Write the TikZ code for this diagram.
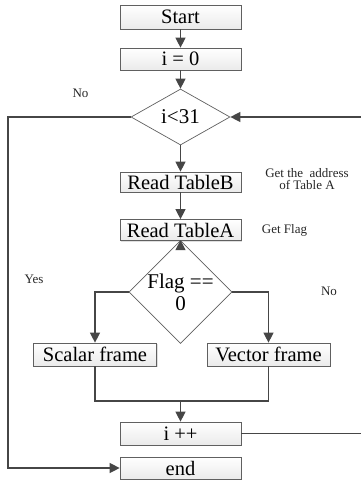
\documentclass[tikz,border=0pt]{standalone}
\usepackage{fontspec}
\setmainfont{Liberation Serif}
\usetikzlibrary{shapes.geometric,arrows.meta,shadows}
\begin{document}
\begin{tikzpicture}[x=1pt,y=-1pt,
  box/.style={draw=gray!75!black, line width=0.7pt, top color=white, bottom color=gray!16,
    minimum width=121pt, inner sep=0pt, font=\fontsize{20.5}{22}\selectfont,
    drop shadow={shadow xshift=1.2pt,shadow yshift=-1.2pt,opacity=0.25,fill=gray}},
  dec/.style={diamond, draw=gray!75!black, line width=0.7pt, fill=white, inner sep=0pt,
    minimum width=98pt, minimum height=56pt, font=\fontsize{21}{22}\selectfont, align=center},
  conn/.style={draw=gray!55!black, line width=1.3pt},
  arr/.style={conn, -{Triangle[length=10pt,width=10pt]}},
  lbl/.style={font=\fontsize{13}{12}\selectfont, inner sep=0pt, text=black!85},
]
\useasboundingbox (0,0) rectangle (360,480);

% nodes
\node[box, minimum height=24pt] (start) at (180.5,17) {Start};
\node[box, minimum height=22pt] (init) at (180.5,59) {i = 0};
\node[dec, minimum width=99pt] (cond) at (180.5,117) {i<31};
\node[box, minimum height=20pt] (rb) at (180.5,182) {Read TableB};
\node[box, minimum height=21pt] (ra) at (180.5,230) {Read TableA};
\node[dec, minimum height=55pt] (flag) at (180.5,292) {Flag ==\\0};
\node[box, minimum width=123pt, minimum height=23pt] (scalar) at (95,354.5) {Scalar frame};
\node[box, minimum width=123pt, minimum height=23pt] (vector) at (268.5,354.5) {Vector frame};
\node[box, minimum height=23pt] (inc) at (180.5,433.5) {i ++};
\node[box, minimum height=22pt] (end) at (180.5,468) {end};

% labels
\node[lbl, anchor=base] (lno1) at (80.5,97) {No};
\node[lbl, align=center] (laddr) at (307,179.5) {Get the\ \ address\\of Table A};
\node[lbl, anchor=base] (lflag) at (284.5,233) {Get Flag};
\node[lbl, anchor=base] (lyes) at (34,283) {Yes};
\node[lbl, anchor=base] (lno2) at (329,295) {No};

% helper coordinates
\coordinate (lc) at (8,117);
\coordinate (le) at (8,468);
\coordinate (rc) at (364,117);
\coordinate (ri) at (364,433.5);
\coordinate (fl) at (95,292);
\coordinate (fr) at (268.5,292);
\coordinate (ml) at (95,401);
\coordinate (mr) at (268.5,401);
\coordinate (mc) at (180.5,401);

% connectors
\draw[arr] (start) -- (init);
\draw[arr] (init) -- (cond);
\draw[arr] (cond) -- (rb);
\draw[arr] (rb) -- (ra);
\draw[arr] (ra) -- (flag);
\draw[arr] (flag.west) -- (fl) -- (scalar.north);
\draw[arr] (flag.east) -- (fr) -- (vector.north);
\draw[conn] (scalar.south) -- (ml) -- (mr) -- (vector.south);
\draw[arr] (mc) -- (inc.north);
\draw[arr] (inc.east) -- (ri) -- (rc) -- (cond.east);
\draw[arr] (cond.west) -- (lc) -- (le) -- (end.west);
\end{tikzpicture}
\end{document}
